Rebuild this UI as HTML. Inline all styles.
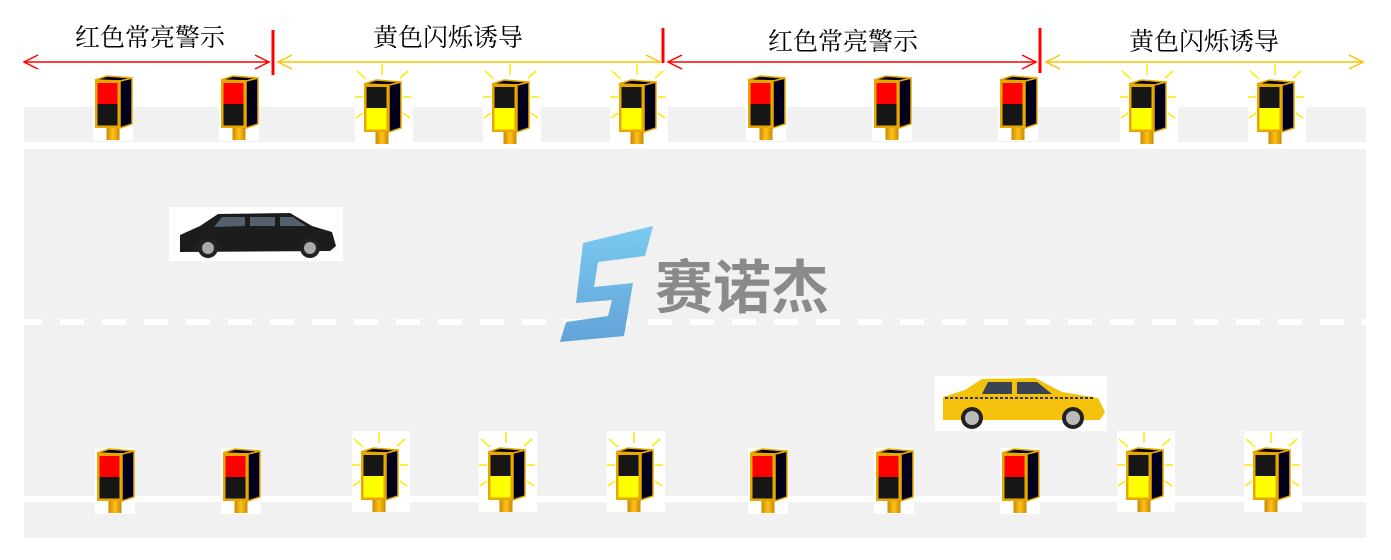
<!DOCTYPE html>
<html><head><meta charset="utf-8"><style>
html,body{margin:0;padding:0;background:#fff;}
svg{display:block;}
.t{font-family:"Liberation Serif","Noto Serif CJK SC",serif;font-size:25px;fill:#000;}
</style></head><body>
<svg width="1391" height="560" viewBox="0 0 1391 560" xmlns="http://www.w3.org/2000/svg">
<defs>
<linearGradient id="post" x1="0" x2="1"><stop offset="0" stop-color="#c98a00"/><stop offset=".5" stop-color="#ffc21a"/><stop offset="1" stop-color="#c98a00"/></linearGradient>
<linearGradient id="blue" x1="0" y1="0" x2="0" y2="1"><stop offset="0" stop-color="#74c8f0"/><stop offset="1" stop-color="#5b9fd6"/></linearGradient>
<g id="R">
<rect x="-2" y="-4" width="40" height="66" fill="#fff"/>
<rect x="11.5" y="48" width="13" height="13" fill="url(#post)"/>
<polygon points="25,2 37,-1 37,45 25,49" fill="#00001c" stroke="#e8a800" stroke-width="1.5"/>
<polygon points="0,1 25,2 37,-1 12,-3" fill="#00001c" stroke="#e8a800" stroke-width="1.5"/>
<rect x="0" y="1" width="25" height="48" fill="#e8a800"/>
<rect x="2.5" y="4" width="20" height="21" fill="#f00"/>
<rect x="2.5" y="25" width="20" height="21.5" fill="#161616"/>
</g>
<g id="Y">
<rect x="-9" y="-20" width="58" height="81" fill="#fff"/>
<g stroke="#ffe800" stroke-width="1.5">
<line x1="18" y1="-19" x2="18" y2="-8"/>
<line x1="-7" y1="-12" x2="2" y2="-4"/>
<line x1="-9" y1="14" x2="-1" y2="14"/>
<line x1="-8" y1="35" x2="-1" y2="30"/>
<line x1="44" y1="-12" x2="36" y2="-5"/>
<line x1="39" y1="14" x2="47" y2="14"/>
<line x1="39" y1="30" x2="46" y2="35"/>
</g>
<rect x="11.5" y="48" width="13" height="13" fill="url(#post)"/>
<polygon points="25,2 37,-1 37,45 25,49" fill="#00001c" stroke="#e8a800" stroke-width="1.5"/>
<polygon points="0,1 25,2 37,-1 12,-3" fill="#00001c" stroke="#e8a800" stroke-width="1.5"/>
<rect x="0" y="1" width="25" height="48" fill="#e8a800"/>
<rect x="2.5" y="4" width="20" height="21" fill="#161616"/>
<rect x="2.5" y="25" width="20" height="21.5" fill="#ffff00"/>
</g>
</defs>

<rect x="24" y="107" width="1342" height="35" fill="#f1f1f1"/>
<rect x="24" y="149" width="1342" height="347" fill="#f1f1f1"/>
<rect x="24" y="502" width="1342" height="36" fill="#f1f1f1"/>
<rect x="24" y="319" width="18" height="6" fill="#fff"/>
<line x1="60" y1="322" x2="1366" y2="322" stroke="#fff" stroke-width="6" stroke-dasharray="24 18"/>

<text class="t" x="150" y="46" text-anchor="middle">红色常亮警示</text>
<text class="t" x="448" y="46" text-anchor="middle">黄色闪烁诱导</text>
<text class="t" x="843" y="50" text-anchor="middle">红色常亮警示</text>
<text class="t" x="1204" y="50" text-anchor="middle">黄色闪烁诱导</text>

<g fill="none" stroke-width="1.5">
<g stroke="#f00">
<line x1="24" y1="62" x2="269" y2="62"/><polyline points="38,55 24,62 38,69"/><polyline points="255,55 269,62 255,69"/>
<line x1="668" y1="62" x2="1036" y2="62"/><polyline points="682,55 668,62 682,69"/><polyline points="1022,55 1036,62 1022,69"/>
</g>
<g stroke="#ffc000">
<line x1="278" y1="62" x2="660" y2="62"/><polyline points="292,55 278,62 292,69"/><polyline points="646,55 660,62 646,69"/>
<line x1="1046" y1="62" x2="1363" y2="62"/><polyline points="1060,55 1046,62 1060,69"/><polyline points="1349,55 1363,62 1349,69"/>
</g>
</g>
<g stroke="#f00" stroke-width="3">
<line x1="273" y1="30" x2="273" y2="75"/>
<line x1="663" y1="28" x2="663" y2="73"/>
<line x1="1040" y1="28" x2="1040" y2="73"/>
</g>

<use href="#R" x="95" y="79"/>
<use href="#R" x="221" y="79"/>
<use href="#Y" x="364" y="83"/>
<use href="#Y" x="492" y="83"/>
<use href="#Y" x="619" y="83"/>
<use href="#R" x="748" y="79"/>
<use href="#R" x="874" y="79"/>
<use href="#R" x="1000" y="79"/>
<use href="#Y" x="1129" y="83"/>
<use href="#Y" x="1257" y="83"/>

<use href="#R" x="97" y="452"/>
<use href="#R" x="223" y="452"/>
<use href="#Y" x="361" y="451"/>
<use href="#Y" x="488" y="451"/>
<use href="#Y" x="616" y="451"/>
<use href="#R" x="750" y="452"/>
<use href="#R" x="876" y="452"/>
<use href="#R" x="1002" y="452"/>
<use href="#Y" x="1126" y="451"/>
<use href="#Y" x="1253" y="451"/>

<rect x="169" y="207" width="174" height="54" fill="#fff"/>
<path d="M180,235 L200,226 L218,214 L290,213 L312,226 L332,232 L336,246 L330,251 L180,252 Z" fill="#1c1c1c"/>
<path d="M222,217 L245,217 L245,226 L214,227 Z M250,217 L275,217 L275,226 L250,226 Z M280,217 L293,217 L306,226 L280,226 Z" fill="#55606e"/>
<circle cx="208" cy="248" r="10" fill="#222"/><circle cx="208" cy="248" r="6" fill="#aaa"/>
<circle cx="310" cy="248" r="10" fill="#222"/><circle cx="310" cy="248" r="6" fill="#aaa"/>

<rect x="935" y="376" width="172" height="55" fill="#fff"/>
<path d="M943,397 L965,390 L982,379 L1035,378 L1062,392 L1098,398 L1105,412 L1100,420 L943,420 Z" fill="#f4c20d"/>
<path d="M988,382 L1012,382 L1012,394 L982,394 Z M1017,382 L1037,382 L1052,394 L1017,394 Z" fill="#3a4450"/>
<line x1="945" y1="398" x2="1095" y2="398" stroke="#333" stroke-width="2" stroke-dasharray="3 2"/>
<circle cx="972" cy="418" r="11" fill="#222"/><circle cx="972" cy="418" r="7" fill="#bbb"/>
<circle cx="1073" cy="418" r="11" fill="#222"/><circle cx="1073" cy="418" r="7" fill="#bbb"/>

<polygon points="583,243 653,226 645,256 598,262 594,287 633,283 624,336 560,342 566,322 608,316 612,300 576,303" fill="url(#blue)" opacity=".95"/>
<text x="655" y="308" font-family="'Noto Sans CJK SC',sans-serif" font-weight="bold" font-size="58" fill="#8a8a8a">赛诺杰</text>
</svg>
</body></html>
